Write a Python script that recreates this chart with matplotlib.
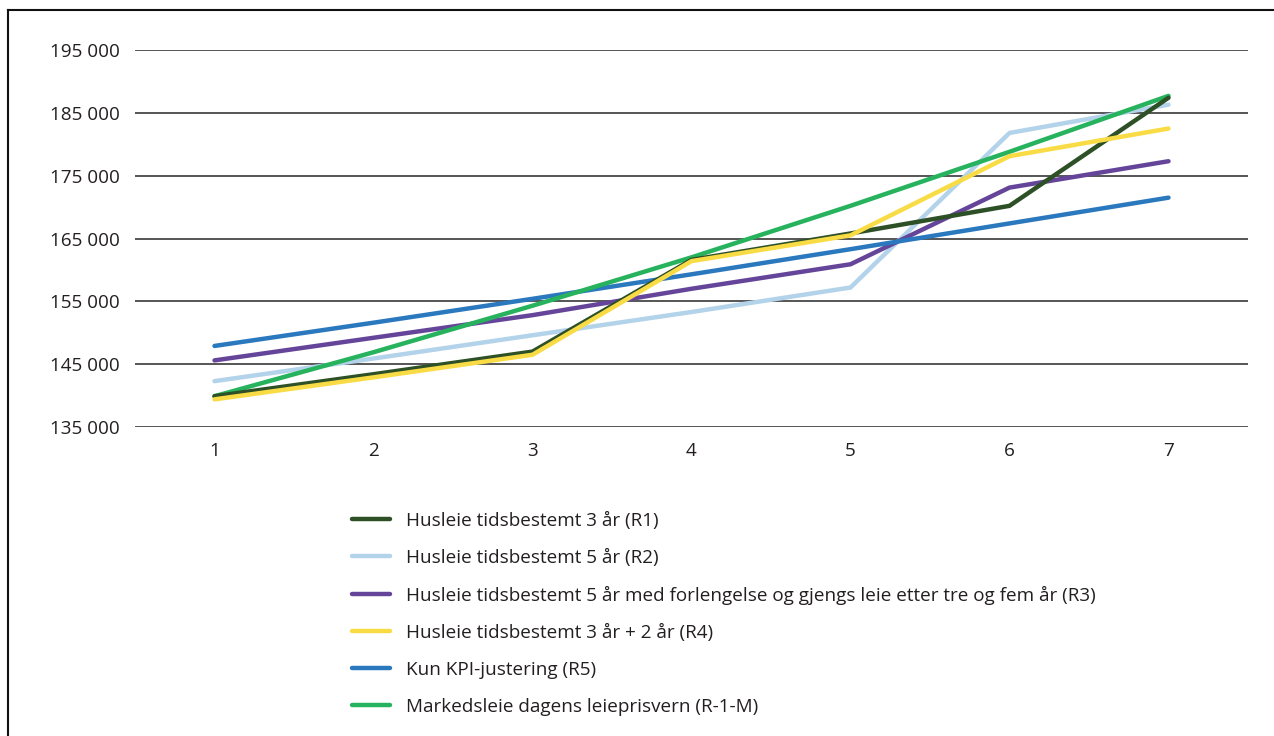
import matplotlib.pyplot as plt
from matplotlib.lines import Line2D

plt.rcParams['font.family'] = ['Open Sans', 'DejaVu Sans']

years = [1, 2, 3, 4, 5, 6, 7]

r1 = [139900, 143400, 147000, 161600, 165800, 170200, 187400]
r2 = [142300, 145900, 149600, 153300, 157200, 181800, 186300]
r3 = [145600, 149200, 152800, 157000, 160900, 173100, 177300]
r4 = [139400, 142900, 146500, 161400, 165500, 178100, 182500]
r5 = [147900, 151600, 155400, 159300, 163300, 167400, 171500]
rm = [139900, 146900, 154300, 162000, 170200, 178800, 187700]

labels = [
    "Husleie tidsbestemt 3 år (R1)",
    "Husleie tidsbestemt 5 år (R2)",
    "Husleie tidsbestemt 5 år med forlengelse og gjengs leie etter tre og fem år (R3)",
    "Husleie tidsbestemt 3 år + 2 år (R4)",
    "Kun KPI-justering (R5)",
    "Markedsleie dagens leieprisvern (R-1-M)",
]
colors = ['#2d5027', '#b3d3ea', '#65459a', '#f9dc45', '#2a78bd', '#27b25d']
series = [r1, r2, r3, r4, r5, rm]

yticks = [135000, 145000, 155000, 165000, 175000, 185000, 195000]

fig = plt.figure(figsize=(12.74, 7.36), dpi=100)
ax = fig.add_axes([135 / 1274, 1 - 427 / 736, (1248 - 135) / 1274, (427 - 50) / 736])

for ys in yticks:
    ax.axhline(ys, color='#555555', lw=1.4, zorder=1)

# draw order so the crossings look like the original
order = [1, 2, 4, 5, 0, 3]
for i in order:
    ax.plot(years, series[i], color=colors[i], lw=3.2, solid_capstyle='round',
            solid_joinstyle='miter', zorder=3)

ax.set_xlim(0.5, 7.5)
ax.set_ylim(135000, 195000)
ax.set_yticks(yticks)
ax.set_yticklabels([f"{v:,}".replace(",", " ") for v in yticks])
ax.set_xticks(years)
ax.tick_params(length=0, labelsize=13.6, colors='#231f20')
ax.tick_params(axis='y', pad=11)
ax.tick_params(axis='x', pad=11)
for s in ax.spines.values():
    s.set_visible(False)

handles = [Line2D([0], [0], color=c, lw=3.2, solid_capstyle='round') for c in colors]
leg = fig.legend(handles, labels, loc='upper left', bbox_to_anchor=(352 / 1274, 1 - 512 / 736),
                 frameon=False, fontsize=13.6, handlelength=2.0, handletextpad=0.85,
                 labelspacing=1.0, borderaxespad=0, borderpad=0)
for t in leg.get_texts():
    t.set_color('#231f20')

# frame lines at top and left of the figure
fig.add_artist(Line2D([8 / 1274, 8 / 1274], [0, 1 - 10 / 736], color='#111111', lw=1.5))
fig.add_artist(Line2D([8 / 1274, 1], [1 - 10 / 736, 1 - 10 / 736], color='#111111', lw=1.5))

fig.savefig('out.png', dpi=100)
